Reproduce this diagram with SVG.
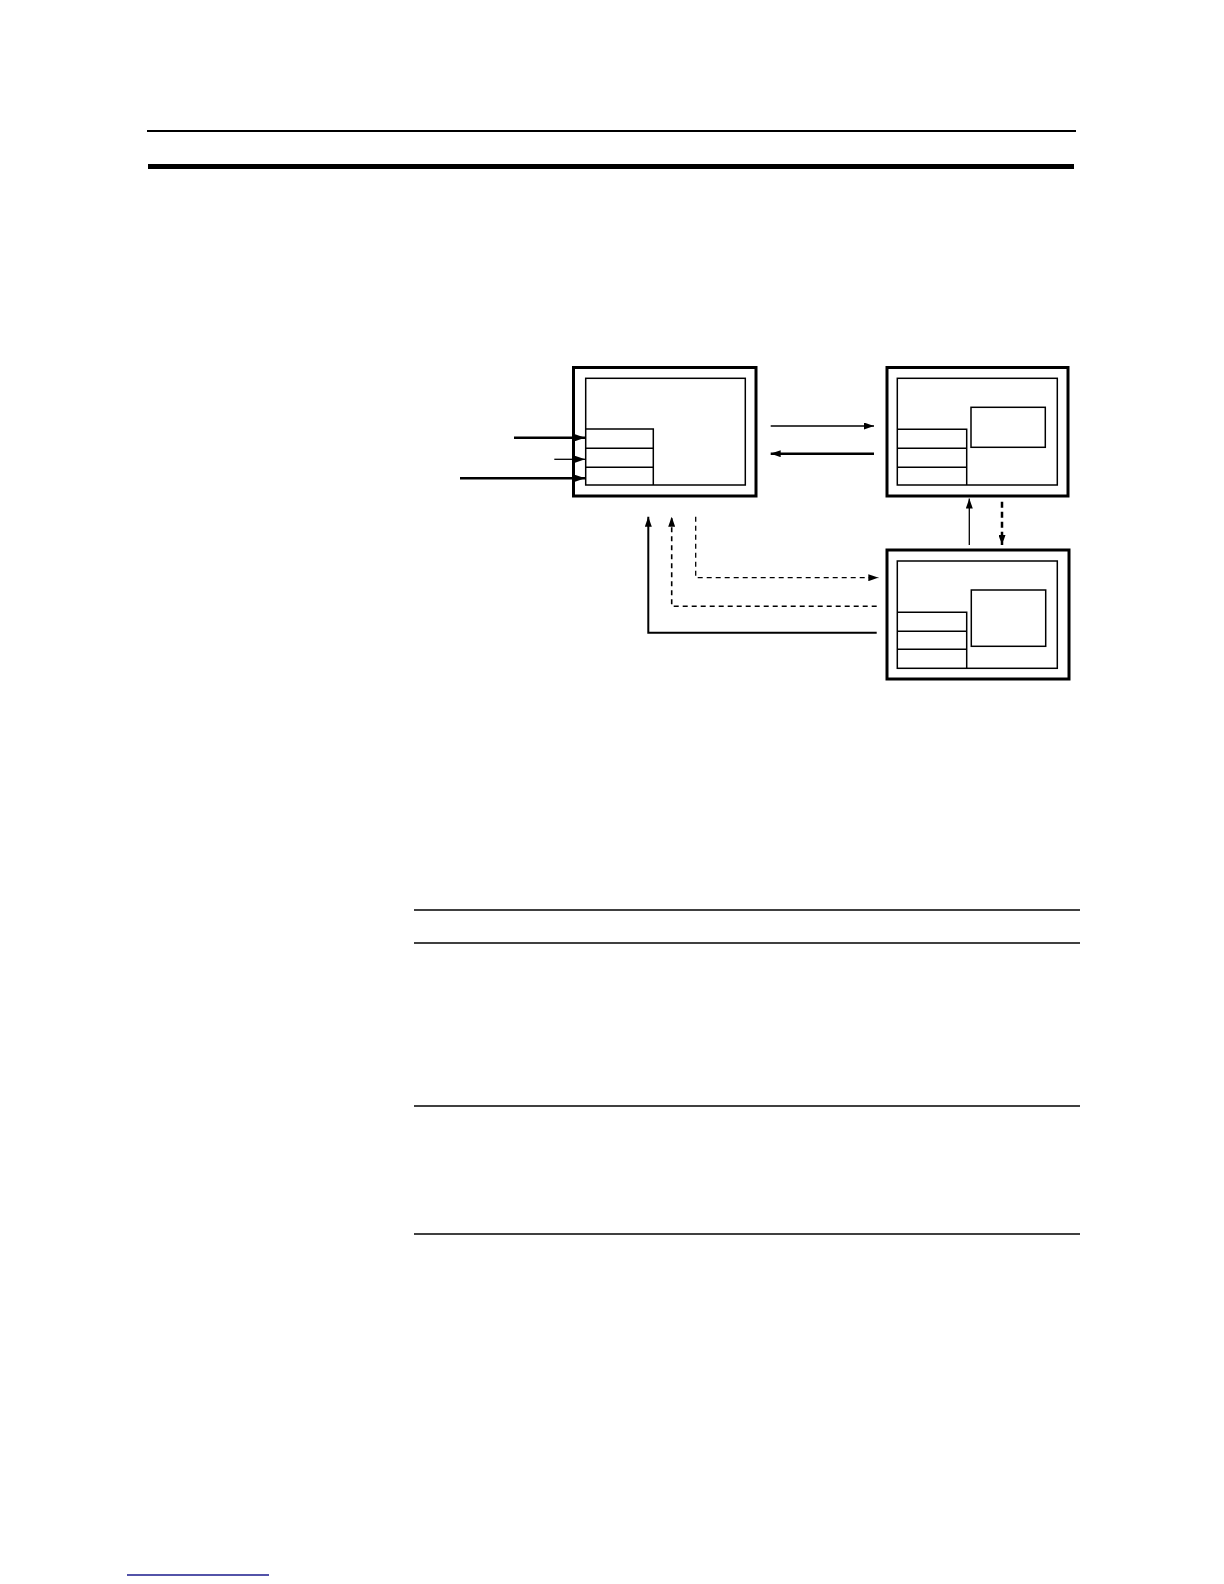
<svg xmlns="http://www.w3.org/2000/svg" width="1224" height="1584" viewBox="0 0 1224 1584">
<defs>
<marker id="ah" markerUnits="userSpaceOnUse" markerWidth="10" markerHeight="7" refX="10" refY="3.5" orient="auto">
<path d="M0,0 L10,3.5 L0,7 z" fill="#000"/>
</marker>
</defs>
<style>
.outer{fill:#fff;stroke:#000;stroke-width:3}
.inner{fill:none;stroke:#000;stroke-width:1.5}
.c{fill:none;stroke:#000}
.thin{stroke-width:1.3}
.thick{stroke-width:2.5}
.dash{stroke-dasharray:5,4}
.rule{stroke:#000;stroke-width:1.5}
</style>
<rect width="1224" height="1584" fill="#fff"/>
<g id="header">
<line x1="147" y1="131" x2="1076" y2="131" stroke="#000" stroke-width="2"/>
<line x1="148" y1="166.5" x2="1074" y2="166.5" stroke="#000" stroke-width="5"/>
</g>
<g id="nodeA">
<rect class="outer" x="573.5" y="367.5" width="182.5" height="128.5"/>
<rect class="inner" x="585.7" y="378.3" width="159.6" height="106.7"/>
<path class="inner" d="M585.7,429 H653.3 V485 M585.7,448.3 H653.3 M585.7,467.3 H653.3"/>
</g>
<g id="nodeB">
<rect class="outer" x="887" y="367.5" width="181" height="128.5"/>
<rect class="inner" x="897.3" y="378.3" width="160" height="106.7"/>
<rect class="inner" x="971" y="407.3" width="74.3" height="40"/>
<path class="inner" d="M897.3,429.3 H966.7 V485 M897.3,448.3 H966.7 M897.3,467.3 H966.7"/>
</g>
<g id="nodeC">
<rect class="outer" x="887" y="550" width="182" height="129"/>
<rect class="inner" x="897.3" y="561" width="160" height="107.3"/>
<rect class="inner" x="971.3" y="590" width="74.4" height="56.3"/>
<path class="inner" d="M897.3,612.3 H966.7 V668.3 M897.3,631.3 H966.7 M897.3,649.3 H966.7"/>
</g>
<g id="connectors">
<line class="c thick" x1="514" y1="437.7" x2="585" y2="437.7" marker-end="url(#ah)"/>
<line class="c thin" x1="554.3" y1="459.3" x2="585" y2="459.3" marker-end="url(#ah)"/>
<line class="c thick" x1="460" y1="478.3" x2="585" y2="478.3" marker-end="url(#ah)"/>
<line class="c thin" x1="770.7" y1="426" x2="874" y2="426" marker-end="url(#ah)"/>
<line class="c thick" x1="874" y1="453.7" x2="770.7" y2="453.7" marker-end="url(#ah)"/>
<line class="c thin" x1="969.3" y1="545" x2="969.3" y2="498.5" marker-end="url(#ah)"/>
<line class="c thick" x1="1002" y1="501.7" x2="1002" y2="545" stroke-dasharray="6,4" marker-end="url(#ah)"/>
<path class="c thin dash" d="M695.7,516.7 V577.7 H878.3" marker-end="url(#ah)"/>
<path class="c dash" stroke-width="1.6" d="M876.7,606.3 H671.7 V516.7" marker-end="url(#ah)"/>
<path class="c" stroke-width="2" d="M876.7,632.7 H648.3 V516.7" marker-end="url(#ah)"/>
</g>
<g id="table">
<line class="rule" x1="414" y1="910" x2="1080" y2="910"/>
<line class="rule" x1="414" y1="943" x2="1080" y2="943"/>
<line class="rule" x1="414" y1="1106" x2="1080" y2="1106"/>
<line class="rule" x1="414" y1="1234" x2="1080" y2="1234"/>
</g>
<g id="footer">
<line x1="127" y1="1575" x2="269" y2="1575" stroke="#1a1a8c" stroke-width="1.4"/>
</g>
</svg>
